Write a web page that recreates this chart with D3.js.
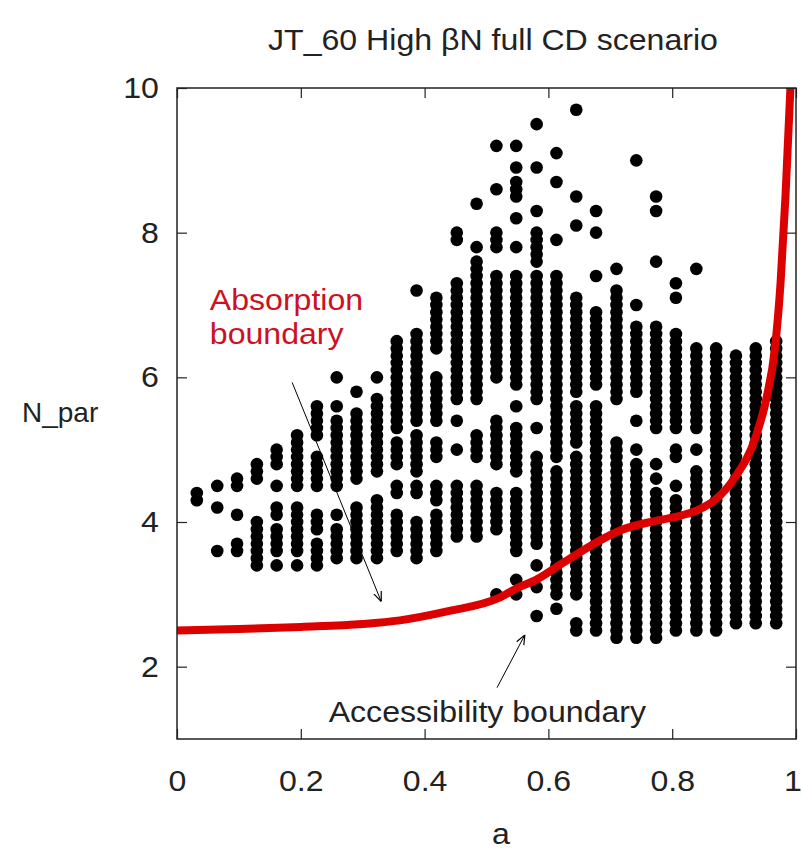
<!DOCTYPE html>
<html>
<head>
<meta charset="utf-8">
<script src="https://cdnjs.cloudflare.com/ajax/libs/d3/7.8.5/d3.min.js"></script>
<style>
  body { margin: 0; background: #fff; }
  text { font-family: "Liberation Sans", Arial, Helvetica, sans-serif; }
</style>
</head>
<body>
<div id="chart"></div>
<script>
var svgWidth = 802;
var svgHeight = 850;

var margin = { top: 88, right: 6, bottom: 111, left: 177 };
var width = svgWidth - margin.left - margin.right;
var height = svgHeight - margin.top - margin.bottom;

// scan columns in a, and the N_par ranges found in each (grid step 0.1)
var aValues = [0.032, 0.065, 0.097, 0.129, 0.161, 0.194, 0.226, 0.258, 0.290, 0.323,
               0.355, 0.387, 0.419, 0.452, 0.484, 0.516, 0.548, 0.581, 0.613, 0.645,
               0.677, 0.710, 0.742, 0.774, 0.806, 0.839, 0.871, 0.903, 0.935, 0.968];
var nParStep = 0.1;
var nParRuns = [
    [[4.3, 4.4]],
    [[4.5, 4.5], [4.2, 4.2], [3.6, 3.6]],
    [[4.5, 4.6], [4.1, 4.1], [3.6, 3.7]],
    [[4.6, 4.8], [3.4, 4.0]],
    [[4.8, 5.0], [4.5, 4.5], [4.1, 4.2], [3.6, 3.9], [3.4, 3.4]],
    [[4.5, 5.2], [3.6, 4.2], [3.4, 3.4]],
    [[5.2, 5.6], [4.5, 4.9], [3.9, 4.1], [3.4, 3.7]],
    [[6.0, 6.0], [5.6, 5.6], [4.5, 5.4], [4.1, 4.1], [3.5, 3.9]],
    [[5.8, 5.8], [4.6, 5.5], [3.5, 4.2]],
    [[6.0, 6.0], [4.7, 5.7], [3.5, 4.3]],
    [[5.3, 6.5], [4.8, 5.1], [4.4, 4.5], [3.6, 4.1]],
    [[7.2, 7.2], [5.4, 6.6], [4.7, 5.2], [4.4, 4.5], [3.5, 4.0]],
    [[6.4, 7.1], [5.4, 6.0], [4.9, 5.1], [4.3, 4.5], [3.6, 4.1]],
    [[7.9, 8.0], [5.7, 7.3], [5.4, 5.4], [5.0, 5.0], [3.8, 4.5]],
    [[8.4, 8.4], [7.8, 7.8], [5.7, 7.6], [4.9, 5.2], [3.8, 4.5]],
    [[9.2, 9.2], [8.6, 8.6], [7.8, 8.0], [6.0, 7.4], [4.8, 5.4], [3.9, 4.4], [3.0, 3.0]],
    [[9.2, 9.2], [8.9, 8.9], [8.5, 8.7], [8.2, 8.2], [7.8, 7.8], [5.9, 7.4], [5.6, 5.6],
     [4.7, 5.3], [3.6, 4.4], [3.2, 3.2], [3.0, 3.0]],
    [[9.5, 9.5], [8.9, 8.9], [8.3, 8.3], [7.6, 8.0], [5.7, 7.4], [5.3, 5.3], [3.7, 4.9],
     [3.4, 3.4], [3.1, 3.1], [2.7, 2.7]],
    [[9.1, 9.1], [8.7, 8.7], [7.9, 7.9], [4.9, 7.4], [3.0, 4.7], [2.8, 2.8]],
    [[9.7, 9.7], [8.5, 8.5], [8.1, 8.1], [5.8, 7.1], [5.1, 5.6], [3.0, 4.9], [2.5, 2.6]],
    [[8.3, 8.3], [8.0, 8.0], [7.4, 7.4], [5.9, 6.9], [2.5, 5.6]],
    [[7.5, 7.5], [5.7, 7.2], [2.4, 5.1]],
    [[9.0, 9.0], [7.0, 7.0], [5.8, 6.7], [5.4, 5.4], [5.0, 5.0], [2.4, 4.8]],
    [[8.5, 8.5], [8.3, 8.3], [7.6, 7.6], [5.3, 6.7], [4.8, 4.8], [4.6, 4.6], [2.4, 4.4]],
    [[7.3, 7.3], [7.1, 7.1], [5.3, 6.6], [4.9, 5.0], [4.5, 4.5], [2.5, 4.3]],
    [[7.5, 7.5], [5.3, 6.4], [5.0, 5.0], [2.5, 4.7]],
    [[2.5, 6.4]],
    [[2.6, 6.3]],
    [[2.6, 6.4]],
    [[2.6, 6.5]]
];

// red boundary curve
var curveA = [0, 0.1, 0.2, 0.3, 0.36, 0.44, 0.52, 0.55, 0.58, 0.61, 0.645, 0.68, 0.715,
              0.77, 0.805, 0.84, 0.87, 0.9, 0.935, 0.953, 0.966, 0.975, 0.983, 0.991];
var curveN = [2.50, 2.52, 2.55, 2.59, 2.64, 2.77, 2.95, 3.09, 3.20, 3.36, 3.55, 3.73, 3.88,
              4.01, 4.07, 4.16, 4.31, 4.60, 5.18, 5.74, 6.40, 7.30, 8.50, 10.0];

var xTicks = [0, 0.2, 0.4, 0.6, 0.8, 1];
var yTicks = [2, 4, 6, 8, 10];

/********************************************************/

var points = [];
aValues.forEach(function (a, i) {
    nParRuns[i].forEach(function (run) {
        for (var n = run[0]; n <= run[1] + 1e-9; n += nParStep) {
            points.push({ a: a, n: Math.round(n * 10) / 10 });
        }
    });
});

var curveData = curveA.map((a, i) => ({ a: a, n: curveN[i] }));

/********************************************************/

var svg = d3.select("#chart")
    .append("svg")
    .attr("width", svgWidth)
    .attr("height", svgHeight);

var chartGroup = svg.append("g")
    .attr("transform", `translate(${margin.left}, ${margin.top})`);

var xScale = d3.scaleLinear().domain([0, 1]).range([0, width]);
var yScale = d3.scaleLinear().domain([1, 10]).range([height, 0]);

var defs = svg.append("defs");
defs.append("clipPath")
    .attr("id", "plotClip")
    .append("rect")
    .attr("width", width)
    .attr("height", height);

defs.append("marker")
    .attr("id", "arrowHead")
    .attr("viewBox", "0 0 10 10")
    .attr("refX", 10)
    .attr("refY", 5)
    .attr("markerWidth", 10)
    .attr("markerHeight", 10)
    .attr("markerUnits", "userSpaceOnUse")
    .attr("orient", "auto")
    .append("path")
    .attr("d", "M0,1 L10,5 L0,9")
    .attr("fill", "none")
    .attr("stroke", "#000")
    .attr("stroke-width", 1.2);

/********************************************************/

chartGroup.append("g")
    .attr("clip-path", "url(#plotClip)")
    .selectAll("circle")
    .data(points)
    .enter()
    .append("circle")
    .attr("cx", d => xScale(d.a))
    .attr("cy", d => yScale(d.n))
    .attr("r", 6.3)
    .attr("fill", "#000");

var line = d3.line()
    .x(d => xScale(d.a))
    .y(d => yScale(d.n))
    .curve(d3.curveMonotoneX);

chartGroup.append("path")
    .datum(curveData)
    .attr("clip-path", "url(#plotClip)")
    .attr("d", line)
    .attr("fill", "none")
    .attr("stroke", "#dd0000")
    .attr("stroke-width", 8);

/********************************************************/

var fontSize = 30;
var stretch = "scale(1.07,1)";

var bottomAxis = d3.axisBottom(xScale).tickValues(xTicks).tickSize(-10).tickPadding(31)
    .tickFormat(d => String(d));
var leftAxis = d3.axisLeft(yScale).tickValues(yTicks).tickSize(-10).tickPadding(17)
    .tickFormat(d => String(d));
var topAxis = d3.axisTop(xScale).tickValues(xTicks).tickSize(-10).tickFormat("");
var rightAxis = d3.axisRight(yScale).tickValues(yTicks).tickSize(-10).tickFormat("");

var xAxisG = chartGroup.append("g")
    .attr("transform", `translate(0, ${height})`)
    .call(bottomAxis);
chartGroup.append("g").call(leftAxis);
chartGroup.append("g").call(topAxis);
chartGroup.append("g")
    .attr("transform", `translate(${width}, 0)`)
    .call(rightAxis);

chartGroup.selectAll(".domain").remove();
chartGroup.selectAll(".tick line").attr("stroke", "#222").attr("stroke-width", 1.2);
chartGroup.selectAll(".tick text")
    .attr("font-size", fontSize)
    .attr("font-family", "Liberation Sans, Arial, sans-serif")
    .attr("fill", "#222")
    .attr("transform", stretch);

// keep the last x label inside the page
xAxisG.selectAll(".tick text")
    .filter(d => d === 1)
    .attr("text-anchor", "end")
    .attr("x", 5);

chartGroup.append("rect")
    .attr("width", width)
    .attr("height", height)
    .attr("fill", "none")
    .attr("stroke", "#222")
    .attr("stroke-width", 1.5);

/********************************************************/

function addText(parent, x, y, str, anchor, color, size, sx) {
    return parent.append("text")
        .attr("transform", `translate(${x},${y}) scale(${sx || 1.07},1)`)
        .attr("text-anchor", anchor)
        .attr("font-size", size || fontSize)
        .attr("fill", color)
        .text(str);
}

addText(svg, 493, 50, "JT_60 High βN full CD scenario", "middle", "#222");
addText(svg, 22, 422, "N_par", "start", "#222", 28, 1);
addText(svg, 501, 844, "a", "middle", "#222");

addText(chartGroup, xScale(0.053), yScale(6.93), "Absorption", "start", "#cc1122");
addText(chartGroup, xScale(0.053), yScale(6.46), "boundary", "start", "#cc1122");
addText(chartGroup, xScale(0.245), yScale(1.24), "Accessibility boundary", "start", "#222");

chartGroup.append("line")
    .attr("x1", xScale(0.186)).attr("y1", yScale(5.93))
    .attr("x2", xScale(0.330)).attr("y2", yScale(2.90))
    .attr("stroke", "#000")
    .attr("stroke-width", 1)
    .attr("marker-end", "url(#arrowHead)");

chartGroup.append("line")
    .attr("x1", xScale(0.517)).attr("y1", yScale(1.71))
    .attr("x2", xScale(0.562)).attr("y2", yScale(2.44))
    .attr("stroke", "#000")
    .attr("stroke-width", 1)
    .attr("marker-end", "url(#arrowHead)");
</script>
</body>
</html>
